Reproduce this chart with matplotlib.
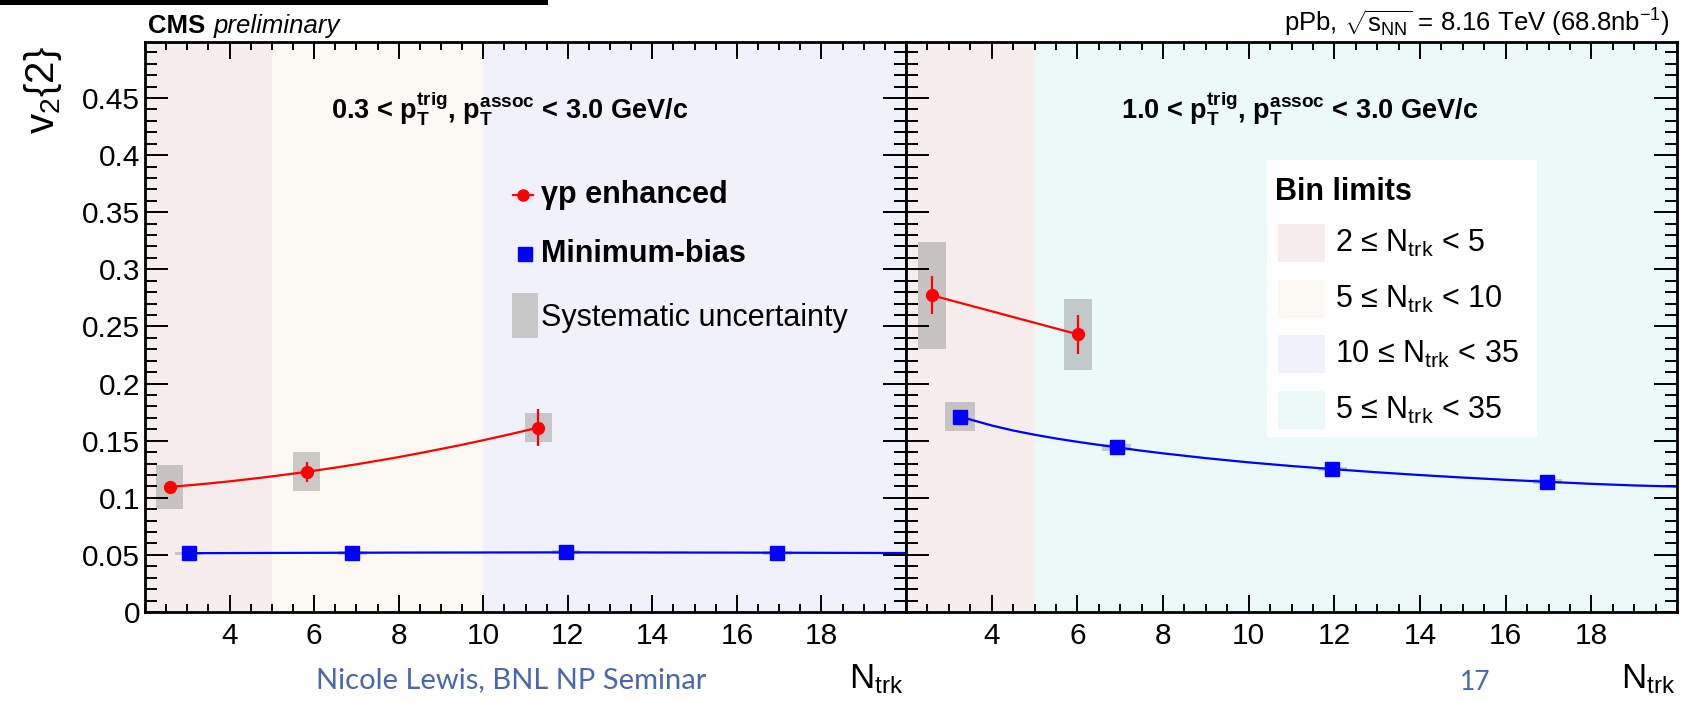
#!/usr/bin/env python3

import numpy as np
import matplotlib
matplotlib.use("Agg")
import matplotlib.pyplot as plt
import matplotlib.transforms as mtransforms
from matplotlib.patches import Rectangle
from matplotlib.lines import Line2D
from matplotlib.ticker import MultipleLocator, FuncFormatter

plt.rcParams['font.family'] = ['Liberation Sans', 'DejaVu Sans']
plt.rcParams['mathtext.fontset'] = 'custom'
plt.rcParams['mathtext.rm'] = 'Liberation Sans'
plt.rcParams['mathtext.it'] = 'Liberation Sans:italic'
plt.rcParams['mathtext.bf'] = 'Liberation Sans:bold'


### Data, left panel: 0.3 < pT < 3.0 GeV/c
gp_lo_x = [2.58, 5.82, 11.30]
gp_lo_y = [0.1095, 0.1227, 0.1614]
gp_lo_stat = [0.003, 0.009, 0.0164]
gp_lo_syst = [0.019, 0.017, 0.013]
# fit curve
gp_lo_fit_x = [2.58, 3.0, 3.5, 4.0, 4.5, 5.0, 5.82, 6.5, 7.0, 7.5, 8.0, 8.5,
               9.0, 9.5, 10.0, 10.5, 11.0, 11.30]
gp_lo_fit_y = [0.1095, 0.1108, 0.1125, 0.1144, 0.1165, 0.1187, 0.1227, 0.1264,
               0.1293, 0.1324, 0.1356, 0.1391, 0.1427, 0.1464, 0.1504, 0.1545,
               0.1588, 0.1614]

mb_lo_x = [3.04, 6.90, 11.96, 16.96]
mb_lo_y = [0.0513, 0.0518, 0.0527, 0.0518]
mb_lo_syst = [0.0015, 0.0015, 0.0015, 0.0015]
mb_lo_fit_x = [3.04, 8.0, 12.0, 16.0, 20.0]
mb_lo_fit_y = [0.0515, 0.0520, 0.0522, 0.0520, 0.0516]

### Data, right panel: 1.0 < pT < 3.0 GeV/c
gp_hi_x = [2.61, 6.02]
gp_hi_y = [0.2772, 0.2430]
gp_hi_stat = [0.0167, 0.0170]
gp_hi_syst = [0.047, 0.031]

mb_hi_x = [3.26, 6.92, 11.95, 16.97]
mb_hi_y = [0.1710, 0.1442, 0.1251, 0.1140]
mb_hi_syst = [0.0126, 0.0030, 0.0020, 0.0020]
mb_hi_fit_x = [3.26, 4.0, 4.5, 5.0, 5.5, 6.0, 6.5, 6.92, 7.5, 8.0, 9.0, 10.0,
               11.0, 11.95, 13.0, 14.0, 15.0, 16.0, 16.97, 18.0, 19.0, 20.0]
mb_hi_fit_y = [0.1710, 0.1633, 0.1589, 0.1552, 0.1519, 0.1490, 0.1463, 0.1442,
               0.1412, 0.1389, 0.1347, 0.1310, 0.1278, 0.1251, 0.1223, 0.1199,
               0.1177, 0.1157, 0.1140, 0.1122, 0.1108, 0.1098]

### Bin limit bands
band_labels = ["2 \u2264 $\\mathrm{N_{trk}}$ < 5", "5 \u2264 $\\mathrm{N_{trk}}$ < 10",
               "10 \u2264 $\\mathrm{N_{trk}}$ < 35", "5 \u2264 $\\mathrm{N_{trk}}$ < 35"]
band_colors = ['#f7eded', '#fcf9f4', '#f1f1fb', '#ebf9f9']
bands_lo = [(2, 5, 0), (5, 10, 1), (10, 20, 2)]
bands_hi = [(2, 5, 0), (5, 20, 3)]

x_ticks = [4, 6, 8, 10, 12, 14, 16, 18]

red = '#ff0000'
blue = '#0000ff'
syst_col = '#9a9a9a'
footer_col = '#4a66ac'

W, H = 1695, 702
fig = plt.figure(figsize=(W / 100, H / 100), dpi=100)
# pixel coords, origin top-left
pix = mtransforms.Affine2D().scale(1.0 / W, -1.0 / H).translate(0, 1) + fig.transFigure

ax_lo = fig.add_axes([145 / W, 1 - 612 / H, 761 / W, 570 / H])
ax_hi = fig.add_axes([906 / W, 1 - 612 / H, 771 / W, 570 / H])


def style_axis(ax, labels_left):
    ax.set_xlim(2, 20)
    ax.set_ylim(0, 0.499)
    ax.set_xticks(x_ticks)
    ax.xaxis.set_minor_locator(MultipleLocator(0.5))
    ax.yaxis.set_major_locator(MultipleLocator(0.05))
    ax.yaxis.set_minor_locator(MultipleLocator(0.01))
    ax.yaxis.set_major_formatter(FuncFormatter(lambda v, p: "%g" % round(v, 3)))
    ax.tick_params(which='both', direction='in', top=True, right=True,
                   width=1.4, color='black', labelsize=21.5)
    ax.tick_params(axis='y', which='major', length=16.5, pad=3.5)
    ax.tick_params(axis='y', which='minor', length=8.5)
    ax.tick_params(axis='x', which='major', length=12.2, pad=7)
    ax.tick_params(axis='x', which='minor', length=5.5)
    if not labels_left:
        ax.tick_params(axis='y', which='both', labelleft=False)
    for s in ax.spines.values():
        s.set_linewidth(2)


def draw_panel(ax, bands, gp_x, gp_y, gp_stat, gp_syst, gp_fit_x, gp_fit_y,
               mb_x, mb_y, mb_syst, mb_fit_x, mb_fit_y):
    for lo, hi, ci in bands:
        ax.axvspan(lo, hi, color=band_colors[ci], lw=0, zorder=0)

    gp_syst = np.array(gp_syst)
    mb_syst = np.array(mb_syst)
    ax.bar(gp_x, 2 * gp_syst, bottom=np.array(gp_y) - gp_syst, width=0.64,
           color=syst_col, alpha=0.5, lw=0, zorder=1)
    ax.bar(mb_x, 2 * mb_syst, bottom=np.array(mb_y) - mb_syst, width=0.68,
           color=syst_col, alpha=0.5, lw=0, zorder=1)

    ax.plot(gp_fit_x, gp_fit_y, color=red, lw=1.6, zorder=2)
    ax.plot(mb_fit_x, mb_fit_y, color=blue, lw=1.6, zorder=2)

    ax.errorbar(gp_x, gp_y, yerr=gp_stat, fmt='o', color=red, ms=8.5,
                elinewidth=1.6, capsize=0, zorder=3)
    ax.plot(mb_x, mb_y, 's', color=blue, ms=9.5, zorder=3)


draw_panel(ax_lo, bands_lo, gp_lo_x, gp_lo_y, gp_lo_stat, gp_lo_syst, gp_lo_fit_x, gp_lo_fit_y,
           mb_lo_x, mb_lo_y, mb_lo_syst, mb_lo_fit_x, mb_lo_fit_y)
draw_panel(ax_hi, bands_hi, gp_hi_x, gp_hi_y, gp_hi_stat, gp_hi_syst, gp_hi_x, gp_hi_y,
           mb_hi_x, mb_hi_y, mb_hi_syst, mb_hi_fit_x, mb_hi_fit_y)
style_axis(ax_lo, True)
style_axis(ax_hi, False)

### Header texts
fig.add_artist(Rectangle((0, 0), 548, 4.7, transform=pix, color='black', lw=0))
fig.text(148, 33, "CMS", transform=pix, fontsize=18.5, fontweight='bold', va='baseline')
fig.text(214, 33, "preliminary", transform=pix, fontsize=18.5, style='italic', va='baseline')
fig.text(1670, 32, r"pPb, $\sqrt{\mathrm{s_{NN}}}$ = 8.16 TeV (68.8nb$^{\mathrm{-1}}$)",
         transform=pix, fontsize=18.5, ha='right', va='baseline')

hdr = r", $\mathbf{p}_{\mathbf{T}}^{\mathbf{assoc}}$ < 3.0 GeV/c"
fig.text(331, 118, r"0.3 < $\mathbf{p}_{\mathbf{T}}^{\mathbf{trig}}$" + hdr, transform=pix,
         fontsize=19.5, fontweight='bold', va='baseline')
fig.text(1121, 118, r"1.0 < $\mathbf{p}_{\mathbf{T}}^{\mathbf{trig}}$" + hdr, transform=pix,
         fontsize=19.5, fontweight='bold', va='baseline')

### Axis labels
fig.text(43, 90, r"$\mathrm{v_2\{2\}}$", transform=pix, fontsize=29, rotation=90,
         ha='center', va='center')
fig.text(903, 688, r"$\mathrm{N_{trk}}$", transform=pix, fontsize=25, ha='right', va='baseline')
fig.text(1675, 688, r"$\mathrm{N_{trk}}$", transform=pix, fontsize=25, ha='right', va='baseline')

### Left legend
fig.add_artist(Line2D([513, 533], [195, 195], transform=pix, color=red, lw=1.6))
fig.add_artist(Line2D([523], [195], transform=pix, color=red, marker='o', ms=8))
fig.text(541, 195, "\u03b3p enhanced", transform=pix, fontsize=22, fontweight='bold', va='center')
fig.add_artist(Line2D([525], [254], transform=pix, color=blue, marker='s', ms=10))
fig.text(541, 254, "Minimum-bias", transform=pix, fontsize=22, fontweight='bold', va='center')
fig.add_artist(Rectangle((512, 293), 26, 45, transform=pix, color='#c8c8c8', lw=0))
fig.text(541, 318, "Systematic uncertainty", transform=pix, fontsize=22, va='center')

### Right legend: bin limits
fig.add_artist(Rectangle((1267, 160), 270, 277, transform=pix, color='white', lw=0))
fig.text(1275, 200, "Bin limits", transform=pix, fontsize=22, fontweight='bold', va='baseline')
row_y = [243, 299, 354, 410]
for i, lab in enumerate(band_labels):
    fig.add_artist(Rectangle((1278, row_y[i] - 19), 47, 38, transform=pix,
                             color=band_colors[i], lw=0))
    fig.text(1335, row_y[i] + 9, lab, transform=pix, fontsize=22, va='baseline')

### Slide footer
fig.text(316, 688, "Nicole Lewis, BNL NP Seminar", transform=pix, fontsize=21,
         family='Lato', color=footer_col, va='baseline')
fig.text(1460, 690, "17", transform=pix, fontsize=19, family='Lato',
         color=footer_col, va='baseline')

fig.savefig("out.png", dpi=100)
